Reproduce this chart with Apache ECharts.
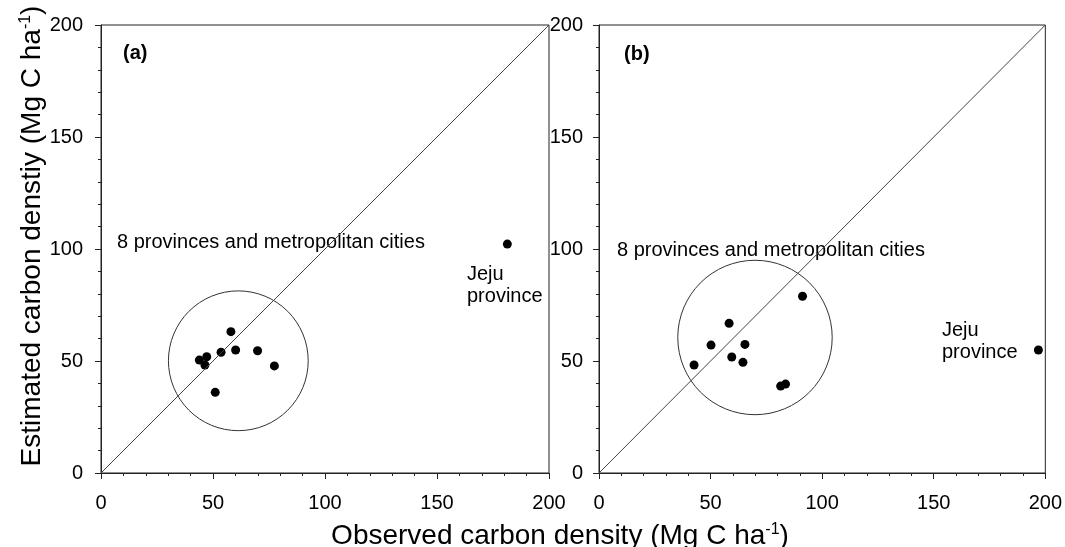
<!DOCTYPE html>
<html>
<head>
<meta charset="utf-8">
<script src="https://cdn.jsdelivr.net/npm/echarts@6/dist/echarts.min.js"></script>
<style>
html, body { margin: 0; padding: 0; background: #fff; }
#carbonChart { width: 1065px; height: 547px; }
</style>
</head>
<body>
<div id="carbonChart"></div>
<script>
// panel (a): 8 provinces and metropolitan cities
var observedA = [58.0, 53.6, 60.1, 69.9, 77.4, 51.0, 43.9, 47.2, 46.4];
var estimatedA = [63.1, 53.9, 54.9, 54.6, 47.8, 36.0, 50.4, 51.9, 48.2];
var jejuA = [181.4, 102.2];
var circleA = [61.3, 50.1, 31.2]; // centre x, centre y, radius (data units)

// panel (b)
var observedB = [91.2, 58.3, 50.2, 65.4, 59.5, 64.5, 42.6, 81.4, 83.6];
var estimatedB = [78.9, 66.8, 57.1, 57.4, 51.8, 49.4, 48.2, 38.8, 39.7];
var jejuB = [196.9, 54.9];
var circleB = [69.9, 60.5, 34.6];

var oneToOne = [[0, 0], [200, 200]];
var axisMin = 0, axisMax = 200, axisStep = 50;

var fontName = 'Liberation Sans, Arial, sans-serif';
var inkColor = '#222';

function pairs(xs, ys) {
    var out = [];
    for (var i = 0; i < xs.length; i++) {
        out.push([xs[i], ys[i]]);
    }
    return out;
}

function makeAxis(gridIndex, labelMargin) {
    return {
        type: 'value',
        gridIndex: gridIndex,
        min: axisMin,
        max: axisMax,
        interval: axisStep,
        axisLine: { show: true, onZero: false, lineStyle: { color: inkColor, width: 1 } },
        axisTick: { show: true, inside: false, length: 6, lineStyle: { color: inkColor } },
        minorTick: { show: true, splitNumber: 5, length: 3, lineStyle: { color: inkColor } },
        splitLine: { show: false },
        axisLabel: {
            color: '#000',
            fontFamily: fontName,
            fontSize: 20,
            margin: labelMargin
        }
    };
}

function circleItem(params, api) {
    var c = api.coord([api.value(0), api.value(1)]);
    var r = api.size([api.value(2), 0])[0];
    return {
        type: 'circle',
        shape: { cx: c[0], cy: c[1], r: r },
        style: { fill: 'none', stroke: '#333', lineWidth: 1 }
    };
}

function panelSeries(idx, xs, ys, jeju, circle) {
    return [{
        type: 'line',
        xAxisIndex: idx, yAxisIndex: idx,
        data: oneToOne,
        symbol: 'none',
        silent: true,
        lineStyle: { color: '#444', width: 1 }
    }, {
        type: 'custom',
        xAxisIndex: idx, yAxisIndex: idx,
        renderItem: circleItem,
        data: [circle],
        silent: true
    }, {
        type: 'scatter',
        xAxisIndex: idx, yAxisIndex: idx,
        data: pairs(xs, ys).concat([jeju]),
        symbol: 'circle',
        symbolSize: 9,
        itemStyle: { color: '#000', opacity: 1 }
    }];
}

function note(text, x, y, bold) {
    return {
        type: 'text',
        x: x, y: y,
        style: {
            text: text,
            font: (bold ? 'bold ' : '') + '20px ' + fontName,
            fill: '#000',
            verticalAlign: 'middle',
            lineHeight: 22
        }
    };
}

var superRich = {
    n: { fontSize: 28, fontFamily: fontName, fill: '#000', color: '#000' },
    s: { fontSize: 16, fontFamily: fontName, fill: '#000', color: '#000', verticalAlign: 'top' }
};

var chart = echarts.init(document.getElementById('carbonChart'));

var option = {
    backgroundColor: '#fff',
    animation: false,
    grid: [
        { left: 101, top: 25, width: 448, height: 448, show: true, borderColor: inkColor, borderWidth: 1, backgroundColor: 'transparent' },
        { left: 599, top: 25, width: 448, height: 448, show: true, borderColor: inkColor, borderWidth: 1, backgroundColor: 'transparent' }
    ],
    xAxis: [makeAxis(0, 20), makeAxis(1, 20)],
    yAxis: [makeAxis(0, 18), makeAxis(1, 16)],
    series: panelSeries(0, observedA, estimatedA, jejuA, circleA)
        .concat(panelSeries(1, observedB, estimatedB, jejuB, circleB)),
    graphic: [
        note('(a)', 123, 53, true),
        note('(b)', 624, 54, true),
        note('8 provinces and metropolitan cities', 117, 242, false),
        note('8 provinces and metropolitan cities', 617, 250, false),
        note('Jeju\nprovince', 467, 285, false),
        note('Jeju\nprovince', 942, 341, false),
        {
            type: 'text',
            x: 560, y: 536,
            style: {
                text: '{n|Observed carbon density (Mg C ha}{s|-1}{n|)}',
                rich: superRich,
                align: 'center',
                verticalAlign: 'middle'
            }
        },
        {
            type: 'text',
            x: 32, y: 236,
            rotation: Math.PI / 2,
            style: {
                text: '{n|Estimated carbon denstiy (Mg C ha}{s|-1}{n|)}',
                rich: superRich,
                align: 'center',
                verticalAlign: 'middle'
            }
        }
    ]
};

chart.setOption(option);
</script>
</body>
</html>
